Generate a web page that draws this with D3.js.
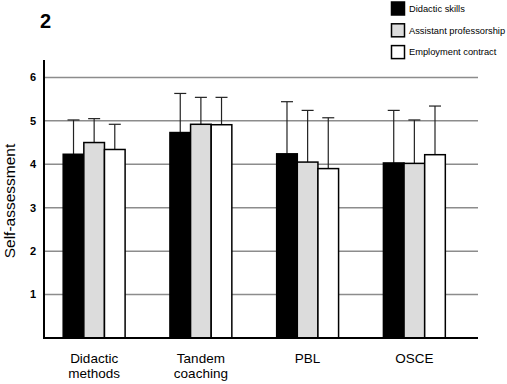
<!DOCTYPE html>
<html><head><meta charset="utf-8">
<script src="https://cdn.jsdelivr.net/npm/d3@7"></script>
<style>body{margin:0;background:#fff}svg{display:block}</style>
</head><body><svg id="c" width="507" height="384"></svg>
<script>
const categories = [["Didactic","methods"],["Tandem","coaching"],["PBL"],["OSCE"]];
const seriesNames = ["Didactic skills","Assistant professorship","Employment contract"];
const seriesColors = ["#000000","#dcdcdc","#ffffff"];
const didacticSkills = [4.23, 4.73, 4.24, 4.03];
const didacticSkillsErr = [5.02, 5.63, 5.44, 5.24];
const assistantProf = [4.50, 4.92, 4.05, 4.02];
const assistantProfErr = [5.05, 5.54, 5.24, 5.02];
const employment = [4.34, 4.91, 3.90, 4.22];
const employmentErr = [4.92, 5.54, 5.07, 5.34];
const yTicks = [1,2,3,4,5,6];

const values = [didacticSkills, assistantProf, employment];
const errs = [didacticSkillsErr, assistantProfErr, employmentErr];

const svg = d3.select("#c");
const font = "Liberation Sans, Arial, sans-serif";
const x0 = 44, x1 = 478, yBase = 338;
const y = d3.scaleLinear().domain([0, 6.4]).range([yBase, 60]);
const xb = d3.scaleBand().domain(d3.range(categories.length)).range([x0, x1])
  .paddingInner(0.42).paddingOuter(0.243).align(0.37);
const xs = d3.scaleBand().domain(d3.range(3)).range([0, xb.bandwidth()]);

// gridlines
svg.append("g").selectAll("line").data(yTicks).join("line")
  .attr("x1", x0).attr("x2", x1).attr("y1", d => y(d)).attr("y2", d => y(d))
  .attr("stroke", "#8c8c8c").attr("stroke-width", 1.5);

const data = [];
categories.forEach((c, i) => values.forEach((s, j) => data.push({i, j, v: s[i], e: errs[j][i]})));

// error bars
const eg = svg.append("g");
data.forEach(d => {
  const cx = xb(d.i) + xs(d.j) + xs.bandwidth() / 2;
  eg.append("line").attr("x1", cx).attr("x2", cx).attr("y1", y(d.v)).attr("y2", y(d.e))
    .attr("stroke", "#222").attr("stroke-width", 1.2);
  eg.append("line").attr("x1", cx - 6).attr("x2", cx + 6).attr("y1", y(d.e)).attr("y2", y(d.e))
    .attr("stroke", "#222").attr("stroke-width", 1.2);
});

// bars
svg.append("g").selectAll("rect").data(data).join("rect")
  .attr("x", d => xb(d.i) + xs(d.j)).attr("width", xs.bandwidth())
  .attr("y", d => y(d.v)).attr("height", d => yBase - y(d.v))
  .attr("fill", d => seriesColors[d.j]).attr("stroke", "#000").attr("stroke-width", 1.5);

// axes lines
svg.append("line").attr("x1", x0).attr("x2", x0).attr("y1", 60).attr("y2", yBase)
  .attr("stroke", "#000").attr("stroke-width", 2);
svg.append("line").attr("x1", x0 - 1).attr("x2", x1).attr("y1", yBase).attr("y2", yBase)
  .attr("stroke", "#000").attr("stroke-width", 2);

// y tick labels
svg.append("g").selectAll("text").data(yTicks).join("text")
  .attr("x", 36).attr("y", d => y(d)).attr("dy", "0.35em").attr("text-anchor", "end")
  .attr("font-family", font).attr("font-size", 11).attr("font-weight", "bold").text(d => d);

// y title
svg.append("text").attr("transform", "translate(15,201) rotate(-90)")
  .attr("text-anchor", "middle").attr("font-family", font).attr("font-size", 15.5)
  .text("Self-assessment");

// x labels
categories.forEach((c, i) => {
  const cx = xb(i) + xb.bandwidth() / 2;
  const t = svg.append("text").attr("text-anchor", "middle").attr("font-family", font)
    .attr("font-size", 13.5);
  c.forEach((line, k) => t.append("tspan").attr("x", cx).attr("y", 362.5 + k * 15.5).text(line));
});

// panel label
svg.append("text").attr("x", 40).attr("y", 28).attr("font-family", font)
  .attr("font-size", 20).attr("font-weight", "bold").text("2");

// legend
seriesNames.forEach((n, j) => {
  const cy = 8.5 + j * 21.8;
  svg.append("rect").attr("x", 391.5).attr("y", cy - 6.5).attr("width", 13).attr("height", 13)
    .attr("fill", seriesColors[j]).attr("stroke", "#000").attr("stroke-width", 1.5);
  svg.append("text").attr("x", 409).attr("y", cy).attr("dy", "0.35em")
    .attr("font-family", font).attr("font-size", 9.3).text(n);
});
</script></body></html>
